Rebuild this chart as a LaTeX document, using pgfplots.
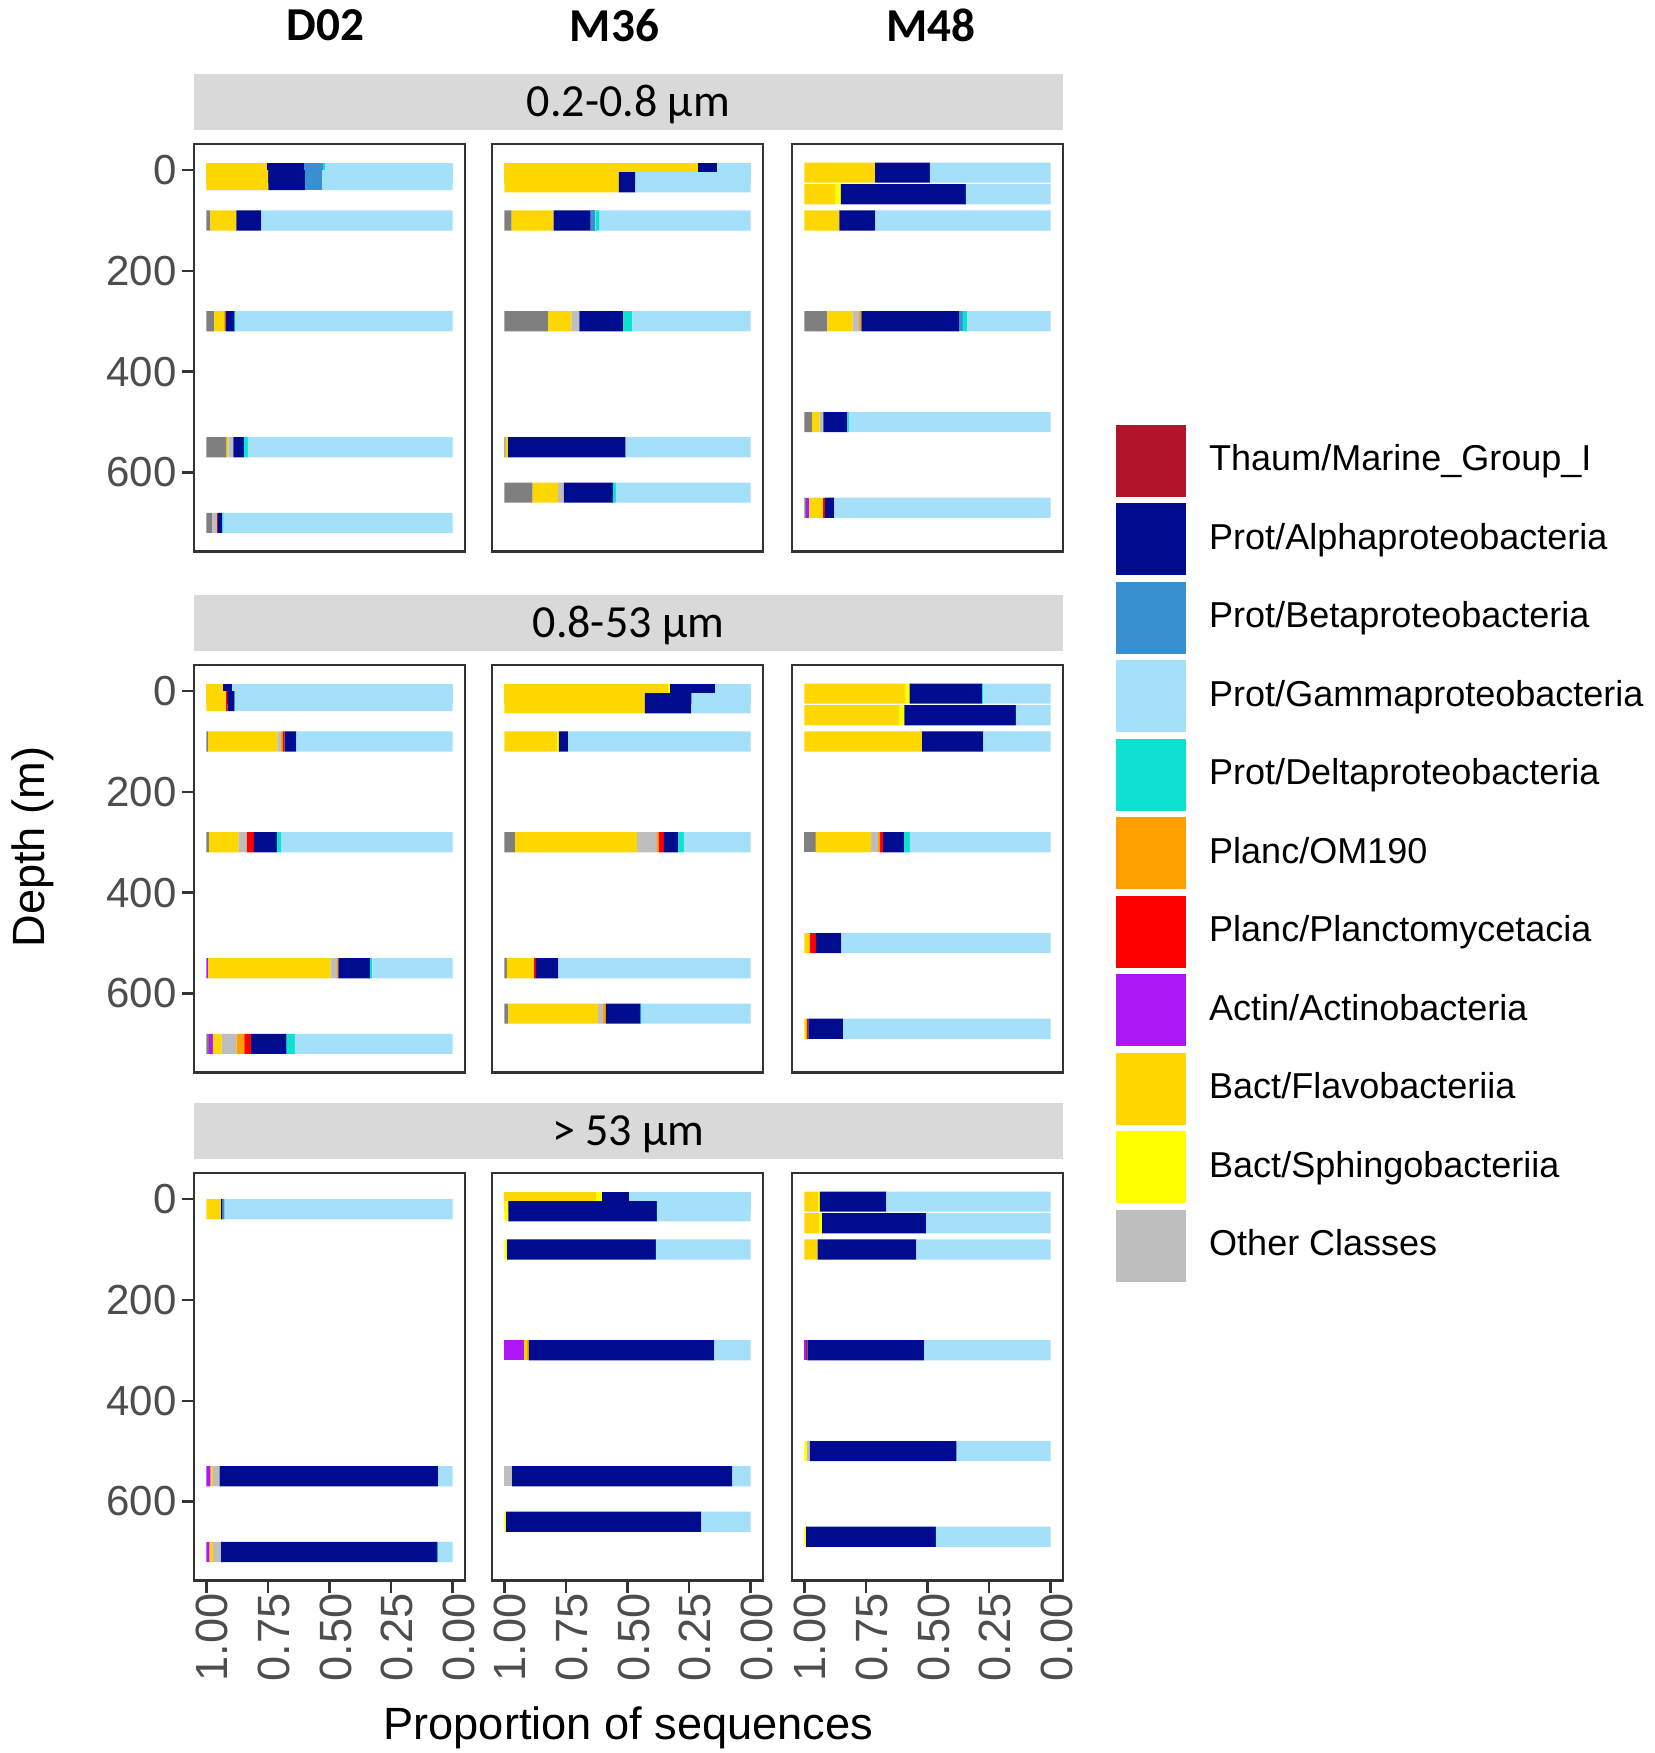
\documentclass[border=0pt]{standalone}
\usepackage{pgfplots}
\pgfplotsset{compat=1.18}
\usepackage{pgfplotstable}
\usepackage{fontspec}
\setmainfont{Liberation Sans}
\newfontfamily\calibri{Carlito}

\definecolor{cGam}{HTML}{A5E0FA}
\definecolor{cDel}{HTML}{0DE2D0}
\definecolor{cBet}{HTML}{3990D0}
\definecolor{cAlp}{HTML}{000C8F}
\definecolor{cThm}{HTML}{B0152B}
\definecolor{cPla}{HTML}{FF0000}
\definecolor{cOm}{HTML}{FFA000}
\definecolor{cOth}{HTML}{BEBEBE}
\definecolor{cSph}{HTML}{FFFF00}
\definecolor{cFla}{HTML}{FFD700}
\definecolor{cAct}{HTML}{AE17F5}
\definecolor{cNA}{HTML}{7F7F7F}
\definecolor{stripbg}{HTML}{D9D9D9}
\definecolor{frame}{HTML}{333333}
\definecolor{ticklab}{HTML}{4D4D4D}

\newcommand{\tickfont}{\fontsize{10.5}{12}\selectfont}
\newcommand{\xtickfont}{\fontsize{11.3}{13}\selectfont}

% ---------------- data: proportions per class, depth d in m ----------------
% D02, 0.2-0.8 um
\pgfplotstableread{
d Gam Del Bet Alp Thm Pla Om Oth Sph Fla Act NA
5 0.520 0.008 0.075 0.152 0 0 0 0 0 0.245 0 0
}\tDau
\pgfplotstableread{
d Gam Del Bet Alp Thm Pla Om Oth Sph Fla Act NA
20 0.530 0 0.070 0.148 0 0 0 0 0 0.252 0 0
100 0.777 0 0 0.101 0 0 0 0 0 0.106 0 0.016
300 0.881 0.004 0 0.037 0 0 0.007 0 0 0.039 0 0.032
550 0.831 0.017 0 0.042 0 0 0 0.020 0 0.008 0 0.082
700 0.930 0.005 0 0.017 0.005 0 0 0.018 0 0 0 0.025
}\tDa
% M36, 0.2-0.8 um
\pgfplotstableread{
d Gam Del Bet Alp Thm Pla Om Oth Sph Fla Act NA
5 0.136 0 0 0.079 0 0 0 0 0 0.785 0 0
}\tMau
\pgfplotstableread{
d Gam Del Bet Alp Thm Pla Om Oth Sph Fla Act NA
24 0.468 0 0 0.067 0 0 0 0 0 0.465 0 0
100 0.613 0.017 0.020 0.150 0 0 0 0 0 0.170 0 0.030
300 0.480 0.037 0 0.178 0 0 0 0.033 0 0.094 0 0.178
550 0.508 0 0 0.477 0 0 0 0 0 0.010 0 0.005
640 0.547 0.012 0 0.199 0 0 0 0.024 0 0.103 0 0.115
}\tMa
% M48, 0.2-0.8 um
\pgfplotstableread{
d Gam Del Bet Alp Thm Pla Om Oth Sph Fla Act NA
5 0.490 0 0 0.223 0 0 0 0 0 0.287 0 0
48 0.344 0 0 0.508 0 0 0 0 0.023 0.125 0 0
100 0.712 0 0 0.146 0 0 0 0 0 0.142 0 0
300 0.339 0.018 0.015 0.396 0 0 0.009 0.027 0 0.102 0 0.094
500 0.819 0.006 0 0.098 0 0 0 0.015 0 0.030 0 0.032
670 0.878 0 0 0.039 0 0.008 0 0 0 0.055 0.012 0.008
}\tNa
% D02, 0.8-53 um
\pgfplotstableread{
d Gam Del Bet Alp Thm Pla Om Oth Sph Fla Act NA
5 0.897 0 0 0.036 0 0 0 0 0 0.067 0 0
}\tDbu
\pgfplotstableread{
d Gam Del Bet Alp Thm Pla Om Oth Sph Fla Act NA
20 0.885 0 0 0.029 0 0.006 0 0 0 0.080 0 0
100 0.634 0 0 0.048 0 0.007 0.007 0.016 0 0.281 0 0.007
300 0.696 0.018 0 0.093 0 0.028 0 0.034 0 0.121 0 0.010
550 0.326 0.009 0 0.129 0 0 0.006 0.025 0 0.498 0.007 0
700 0.641 0.033 0 0.144 0 0.028 0.031 0.061 0 0.035 0.017 0.010
}\tDb
% M36, 0.8-53 um
\pgfplotstableread{
d Gam Del Bet Alp Thm Pla Om Oth Sph Fla Act NA
5 0.144 0 0 0.182 0 0 0 0 0.011 0.663 0 0
}\tMbu
\pgfplotstableread{
d Gam Del Bet Alp Thm Pla Om Oth Sph Fla Act NA
24 0.241 0 0 0.189 0 0 0 0 0 0.570 0 0
100 0.741 0 0 0.038 0 0 0 0 0.006 0.215 0 0
300 0.271 0.023 0 0.058 0 0.022 0.007 0.080 0 0.495 0 0.044
550 0.781 0 0 0.091 0 0.007 0 0 0 0.111 0 0.010
640 0.443 0.004 0 0.141 0 0 0.011 0.020 0 0.365 0 0.016
}\tMb
% M48, 0.8-53 um
\pgfplotstableread{
d Gam Del Bet Alp Thm Pla Om Oth Sph Fla Act NA
5 0.273 0.005 0 0.295 0 0 0 0 0.019 0.408 0 0
48 0.141 0 0 0.453 0 0 0 0 0.022 0.384 0 0
100 0.273 0 0 0.249 0 0 0 0 0 0.478 0 0
300 0.572 0.022 0 0.086 0 0.012 0.007 0.031 0 0.224 0 0.046
500 0.850 0 0 0.103 0 0.024 0 0 0 0.023 0 0
670 0.843 0 0 0.141 0 0.006 0 0 0 0.010 0 0
}\tNb
% D02, >53 um
\pgfplotstableread{
d Gam Del Bet Alp Thm Pla Om Oth Sph Fla Act NA
20 0.926 0 0.008 0.006 0 0 0 0 0 0.060 0 0
550 0.059 0 0 0.887 0 0 0 0.027 0 0.010 0.017 0
700 0.059 0 0.005 0.876 0 0 0 0.033 0 0.014 0.013 0
}\tDc
% M36, >53 um
\pgfplotstableread{
d Gam Del Bet Alp Thm Pla Om Oth Sph Fla Act NA
5 0.492 0 0 0.112 0 0 0 0 0.024 0.372 0 0
}\tMcu
\pgfplotstableread{
d Gam Del Bet Alp Thm Pla Om Oth Sph Fla Act NA
24 0.381 0 0 0.603 0 0 0 0 0.016 0 0 0
100 0.385 0 0 0.604 0 0 0 0 0.011 0 0 0
300 0.147 0 0 0.753 0 0 0.008 0 0 0.012 0.080 0
550 0.074 0 0 0.894 0 0 0 0.032 0 0 0 0
640 0.200 0 0 0.793 0 0 0 0 0.007 0 0 0
}\tMc
% M48, >53 um
\pgfplotstableread{
d Gam Del Bet Alp Thm Pla Om Oth Sph Fla Act NA
5 0.667 0 0 0.270 0 0 0 0 0.007 0.056 0 0
48 0.506 0 0 0.422 0 0 0 0 0.012 0.060 0 0
100 0.545 0 0 0.401 0 0 0 0 0 0.054 0 0
300 0.513 0 0 0.475 0.006 0 0 0 0 0 0.006 0
500 0.382 0 0 0.595 0 0 0 0.013 0.010 0 0 0
670 0.466 0 0 0.527 0 0 0 0 0.007 0 0 0
}\tNc

\newcommand{\bars}[1]{%
\addplot[draw=none,fill=cGam] table[x=Gam,y=d]{#1};
\addplot[draw=none,fill=cDel] table[x=Del,y=d]{#1};
\addplot[draw=none,fill=cBet] table[x=Bet,y=d]{#1};
\addplot[draw=none,fill=cAlp] table[x=Alp,y=d]{#1};
\addplot[draw=none,fill=cThm] table[x=Thm,y=d]{#1};
\addplot[draw=none,fill=cPla] table[x=Pla,y=d]{#1};
\addplot[draw=none,fill=cOm] table[x=Om,y=d]{#1};
\addplot[draw=none,fill=cOth] table[x=Oth,y=d]{#1};
\addplot[draw=none,fill=cSph] table[x=Sph,y=d]{#1};
\addplot[draw=none,fill=cFla] table[x=Fla,y=d]{#1};
\addplot[draw=none,fill=cAct] table[x=Act,y=d]{#1};
\addplot[draw=none,fill=cNA] table[x=NA,y=d]{#1};
}

\pgfplotsset{
  panel/.style={
    anchor=south west, width=67.75pt, height=101.875pt, scale only axis,
    xmin=-0.05, xmax=1.05, ymin=-51.75, ymax=756.75,
    x dir=reverse, y dir=reverse,
    xbar stacked, bar width=40,
    axis line style={draw=frame, line width=0.6pt},
    every tick/.style={draw=frame, line width=0.6pt},
    tick align=outside, major tick length=3pt,
    xtick=\empty, ytick=\empty,
    xtick pos=left, ytick pos=left,
    /pgf/number format/assume math mode=true,
  },
  leftcol/.style={
    ytick={0,200,400,600},
    yticklabel style={font=\tickfont, text=ticklab, inner sep=0pt, xshift=-1.2pt},
  },
  bottomrow/.style={
    xtick={0,0.25,0.5,0.75,1},
    xticklabel={\pgfmathprintnumber[fixed,fixed zerofill,precision=2]{\tick}},
    xticklabel style={rotate=90, anchor=east, font=\xtickfont, text=ticklab, inner sep=0pt, yshift=-1.5pt},
  },
}

\begin{document}
\begin{tikzpicture}
\useasboundingbox (0,0) rectangle (413.5pt,-438.25pt);

% column titles
\node[font=\calibri\bfseries\fontsize{11.8}{14}\selectfont] at (81.4pt,-6.3pt) {D02};
\node[font=\calibri\bfseries\fontsize{11.8}{14}\selectfont] at (153.6pt,-6.3pt) {M36};
\node[font=\calibri\bfseries\fontsize{11.8}{14}\selectfont] at (232.8pt,-6.3pt) {M48};

% strips
\fill[stripbg] (48.5pt,-18.5pt) rectangle (265.75pt,-32.5pt);
\fill[stripbg] (48.5pt,-148.75pt) rectangle (265.75pt,-162.75pt);
\fill[stripbg] (48.5pt,-275.75pt) rectangle (265.75pt,-289.75pt);
\node[anchor=base, font=\calibri\fontsize{11.5}{14}\selectfont] at (157.1pt,-29.1pt) {0.2-0.8 µm};
\node[anchor=base, font=\calibri\fontsize{11.5}{14}\selectfont] at (157.1pt,-159.35pt) {0.8-53 µm};
\node[anchor=base, font=\calibri\fontsize{11.5}{14}\selectfont] at (157.1pt,-286.35pt) {> 53 µm};

% ---------------- row 1 ----------------
\begin{axis}[panel, hide axis, at={(48.5pt,-137.875pt)}] \bars{\tDau} \end{axis}
\begin{axis}[panel, leftcol, at={(48.5pt,-137.875pt)}] \bars{\tDa} \end{axis}
\begin{axis}[panel, hide axis, at={(123pt,-137.875pt)}] \bars{\tMau} \end{axis}
\begin{axis}[panel, at={(123pt,-137.875pt)}] \bars{\tMa} \end{axis}
\begin{axis}[panel, at={(198pt,-137.875pt)}] \bars{\tNa} \end{axis}

% ---------------- row 2 ----------------
\begin{axis}[panel, hide axis, at={(48.5pt,-268.125pt)}] \bars{\tDbu} \end{axis}
\begin{axis}[panel, leftcol, at={(48.5pt,-268.125pt)}] \bars{\tDb} \end{axis}
\begin{axis}[panel, hide axis, at={(123pt,-268.125pt)}] \bars{\tMbu} \end{axis}
\begin{axis}[panel, at={(123pt,-268.125pt)}] \bars{\tMb} \end{axis}
\begin{axis}[panel, at={(198pt,-268.125pt)}] \bars{\tNb} \end{axis}

% ---------------- row 3 ----------------
\begin{axis}[panel, leftcol, bottomrow, at={(48.5pt,-395.125pt)}] \bars{\tDc} \end{axis}
\begin{axis}[panel, hide axis, at={(123pt,-395.125pt)}] \bars{\tMcu} \end{axis}
\begin{axis}[panel, bottomrow, at={(123pt,-395.125pt)}] \bars{\tMc} \end{axis}
\begin{axis}[panel, bottomrow, at={(198pt,-395.125pt)}] \bars{\tNc} \end{axis}

% axis titles
\node[rotate=90, font=\fontsize{11.3}{13}\selectfont] at (8.2pt,-211.75pt) {Depth (m)};
\node[font=\fontsize{11.3}{13}\selectfont] at (157.1pt,-432pt) {Proportion of sequences};

% legend
\begin{axis}[at={(278.25pt,-105.4pt)}, anchor=north west, width=10pt, height=10pt,
  scale only axis, hide axis, xmin=0, xmax=1, ymin=0, ymax=1,
  legend style={at={(0,1)}, anchor=north west, draw=none, fill=none,
    inner sep=0pt, outer sep=0pt, row sep=0pt, column sep=5pt,
    font=\fontsize{9}{10}\selectfont, cells={anchor=west}, nodes={inner sep=0pt}},
  legend image code/.code={%
    \path[#1, draw=white, line width=0.8pt] (0pt,-9.4125pt) rectangle (18.25pt,9.4125pt);}
]
\addlegendimage{fill=cThm}\addlegendentry{Thaum/Marine\_Group\_I}
\addlegendimage{fill=cAlp}\addlegendentry{Prot/Alphaproteobacteria}
\addlegendimage{fill=cBet}\addlegendentry{Prot/Betaproteobacteria}
\addlegendimage{fill=cGam}\addlegendentry{Prot/Gammaproteobacteria}
\addlegendimage{fill=cDel}\addlegendentry{Prot/Deltaproteobacteria}
\addlegendimage{fill=cOm}\addlegendentry{Planc/OM190}
\addlegendimage{fill=cPla}\addlegendentry{Planc/Planctomycetacia}
\addlegendimage{fill=cAct}\addlegendentry{Actin/Actinobacteria}
\addlegendimage{fill=cFla}\addlegendentry{Bact/Flavobacteriia}
\addlegendimage{fill=cSph}\addlegendentry{Bact/Sphingobacteriia}
\addlegendimage{fill=cOth}\addlegendentry{Other Classes}
\end{axis}
\end{tikzpicture}
\end{document}
